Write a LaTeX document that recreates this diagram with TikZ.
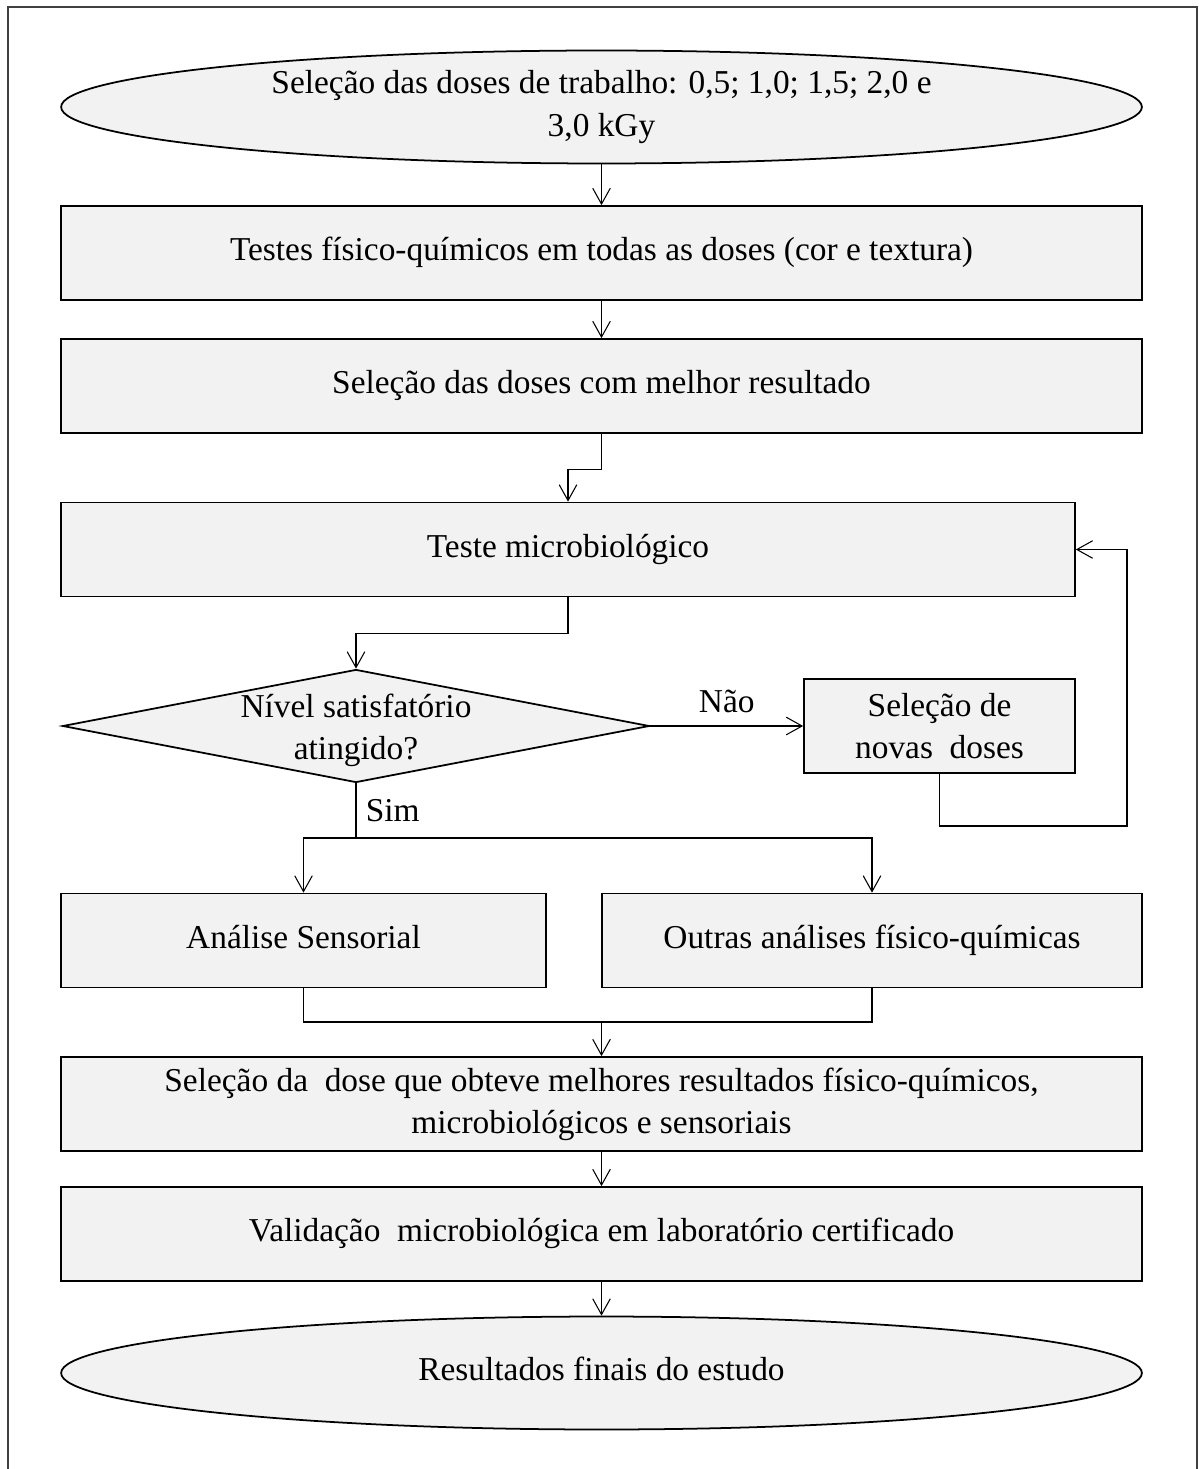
\documentclass[tikz,border=0pt]{standalone}
\usepackage{fontspec}
\setmainfont{Liberation Serif}
\usetikzlibrary{arrows.meta,shapes.geometric}

\begin{document}
\begin{tikzpicture}[x=0.02cm, y=-0.02cm,
    every node/.style={font=\fontsize{19}{24}\selectfont},
    box/.style={draw, line width=1pt, fill=black!5, minimum height=1.88cm, align=center, inner sep=0pt},
    one/.style={text height=13pt, text depth=4pt},
    term/.style={ellipse, draw, line width=1pt, fill=black!5, minimum width=21.62cm, minimum height=2.26cm, align=center, inner sep=0pt},
    dia/.style={diamond, draw, line width=1pt, fill=black!5, minimum width=11.74cm, minimum height=2.26cm, inner sep=0pt},
    line/.style={line width=0.6pt},
    arr/.style={line, -{Straight Barb[length=9pt,width=10pt]}}]
  \useasboundingbox (0,0) rectangle (1202,1469);
  % outer frame, open at the bottom
  \draw[line width=0.7pt, black!75] (8,1469) -- (8,7) -- (1197,7) -- (1197,1469);

  % main column
  \node[term] (doses) at (601.5,107) {Seleção das doses de trabalho: 0,5; 1,0; 1,5; 2,0 e\\3,0 kGy};
  \node[box, one, minimum width=21.62cm] (fq) at (601.5,253) {Testes físico-químicos em todas as doses (cor e textura)};
  \node[box, one, minimum width=21.62cm] (melhor) at (601.5,386) {Seleção das doses com melhor resultado};
  \node[box, one, minimum width=20.28cm] (micro) at (568,549.5) {Teste microbiológico};

  % decision
  \node[dia] (nivel) at (356,726) {};
  \node[align=center, inner sep=0pt] (niveltxt) at (356,730) {Nível satisfatório\\atingido?};
  \node[box, minimum width=5.42cm] (novas) at (939.5,726) {Seleção de\\novas\ \ doses};

  % parallel analyses
  \node[box, one, minimum width=9.7cm] (sens) at (303.5,940.5) {Análise Sensorial};
  \node[box, one, minimum width=10.8cm] (outras) at (872,940.5) {Outras análises físico-químicas};

  \node[box, minimum width=21.62cm] (final) at (601.5,1104) {Seleção da\ \ dose que obteve melhores resultados físico-químicos,\\microbiológicos e sensoriais};
  \node[box, one, minimum width=21.62cm] (valid) at (601.5,1234) {Validação\ \ microbiológica em laboratório certificado};
  \node[term, text height=13pt, text depth=4pt] (fim) at (601.5,1373) {Resultados finais do estudo};

  % connectors
  \coordinate (sim) at (356,838);
  \coordinate (volta) at (1127,826);
  \coordinate (junta) at (601.5,1022);

  \draw[arr] (doses) -- (fq);
  \draw[arr] (fq) -- (melhor);
  \draw[arr] (melhor.south) -- ++(0,36) -| (micro.north);
  \draw[arr] (micro.south) -- ++(0,36) -| (nivel.north);
  \draw[arr] (nivel.east) -- node[above=4pt] {Não} (novas.west);
  \draw[arr] (novas.south) |- (volta) |- (micro.east);
  \draw[line] (nivel.south) -- node[right=2pt] {Sim} (sim);
  \draw[arr] (sim) -| (sens.north);
  \draw[arr] (sim) -| (outras.north);
  \draw[line] (sens.south) |- (junta) -| (outras.south);
  \draw[arr] (junta) -- (final.north);
  \draw[arr] (final) -- (valid);
  \draw[arr] (valid) -- (fim);
\end{tikzpicture}
\end{document}
